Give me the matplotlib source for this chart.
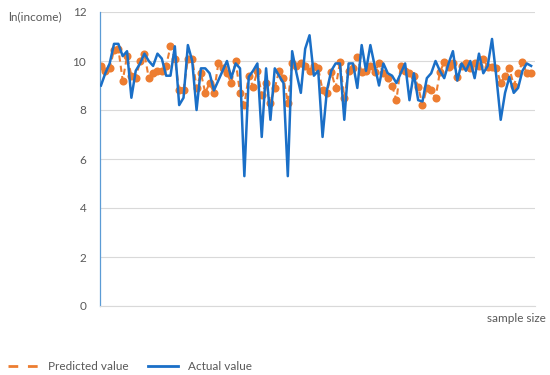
import numpy as np
import matplotlib
matplotlib.use('Agg')
import matplotlib.pyplot as plt
from matplotlib.lines import Line2D

# ln(income) per sample
actual = [9.0, 9.5, 9.9, 10.7, 10.7, 10.2, 10.4, 8.5, 9.6, 9.9,
          10.3, 10.0, 9.8, 10.3, 10.1, 9.4, 9.4, 10.6, 8.2, 8.5,
          10.65, 10.0, 8.0, 9.7, 9.7, 9.5, 8.8, 9.2, 9.6, 10.0,
          9.3, 9.9, 9.7, 5.3, 9.35, 9.6, 9.9, 6.9, 9.7, 7.6,
          9.7, 9.4, 9.1, 5.3, 10.4, 9.5, 8.7, 10.5, 11.05, 9.4,
          9.6, 6.9, 8.8, 9.6, 9.9, 9.9, 7.6, 9.9, 9.9, 8.9,
          10.65, 9.6, 10.65, 9.8, 9.0, 9.9, 9.5, 9.4, 9.1, 9.5,
          9.9, 8.4, 9.5, 8.4, 8.35, 9.3, 9.5, 10.0, 9.6, 9.3,
          9.9, 10.4, 9.2, 9.9, 9.6, 10.0, 9.3, 10.3, 9.5, 9.8,
          10.9, 9.35, 7.6, 8.7, 9.35, 8.7, 8.9, 9.6, 9.9, 9.8]

predicted = [9.8, 9.6, 9.7, 10.45, 10.5, 9.2, 10.2, 9.4, 9.3, 10.0,
             10.3, 9.3, 9.5, 9.6, 9.6, 9.8, 10.6, 10.1, 8.8, 8.8,
             10.1, 10.1, 8.9, 9.5, 8.7, 9.1, 8.7, 9.9, 9.7, 9.5,
             9.1, 10.0, 8.7, 8.2, 9.4, 8.95, 9.6, 8.6, 9.1, 8.3,
             8.9, 9.6, 9.3, 8.3, 9.9, 9.8, 9.9, 9.8, 9.6, 9.8,
             9.7, 8.8, 8.7, 9.55, 8.9, 9.95, 8.5, 9.6, 9.7, 10.15,
             9.55, 9.6, 9.8, 9.55, 9.9, 9.5, 9.3, 9.0, 8.4, 9.8,
             9.6, 9.5, 9.4, 8.95, 8.2, 8.9, 8.8, 8.5, 9.55, 9.95,
             9.75, 9.9, 9.35, 9.8, 9.9, 9.7, 9.9, 9.8, 10.1, 9.75,
             9.75, 9.7, 9.1, 9.4, 9.7, 9.0, 9.5, 9.95, 9.5, 9.5]

yticks = [0, 2, 4, 6, 8, 10, 12]
samples = np.arange(1, len(actual) + 1)

orange = '#ED7D31'
blue = '#1A6FC7'
grey = '#595959'

plt.rcParams['font.family'] = ['Lato', 'DejaVu Sans']

fig = plt.figure(figsize=(5.5, 3.75), dpi=100)
ax = fig.add_axes([0.182, 0.184, 0.79, 0.784])

ax.plot(samples, predicted, color=orange, linestyle=(0, (3, 2)), linewidth=1.5,
        marker='o', markersize=5.8, markeredgewidth=0, zorder=2)
ax.plot(samples, actual, color=blue, linewidth=1.8, zorder=3)

ax.set_ylim(0, 12)
ax.set_xlim(0.8, 100.8)
ax.set_yticks(yticks)
ax.set_yticklabels([str(t) for t in yticks])
ax.set_xticks([])
ax.yaxis.grid(True, color='#D9D9D9', linewidth=0.8)
ax.set_axisbelow(True)
ax.tick_params(axis='y', length=0, pad=10, labelsize=8.5, labelcolor=grey)

for side in ['top', 'right']:
    ax.spines[side].set_visible(False)
ax.spines['left'].set_color('#5B9BD5')
ax.spines['left'].set_linewidth(0.9)
ax.spines['bottom'].set_color('#D9D9D9')
ax.spines['bottom'].set_linewidth(0.8)

fig.text(0.015, 0.955, 'ln(income)', fontsize=8.5, color=grey, va='center')
fig.text(0.992, 0.152, 'sample size', fontsize=8.5, color=grey, ha='right', va='center')

# legend: dashes only for predicted, no markers
handles = [Line2D([], [], color=orange, linestyle=(0, (3.5, 3.5)), linewidth=2),
           Line2D([], [], color=blue, linewidth=2)]
fig.legend(handles, ['Predicted value', 'Actual value'], loc='lower left',
           bbox_to_anchor=(-0.005, -0.02), ncol=2, frameon=False, fontsize=8.5,
           labelcolor=grey, handlelength=2.6, handletextpad=0.8, columnspacing=1.6)

fig.savefig('out.png', dpi=100)
